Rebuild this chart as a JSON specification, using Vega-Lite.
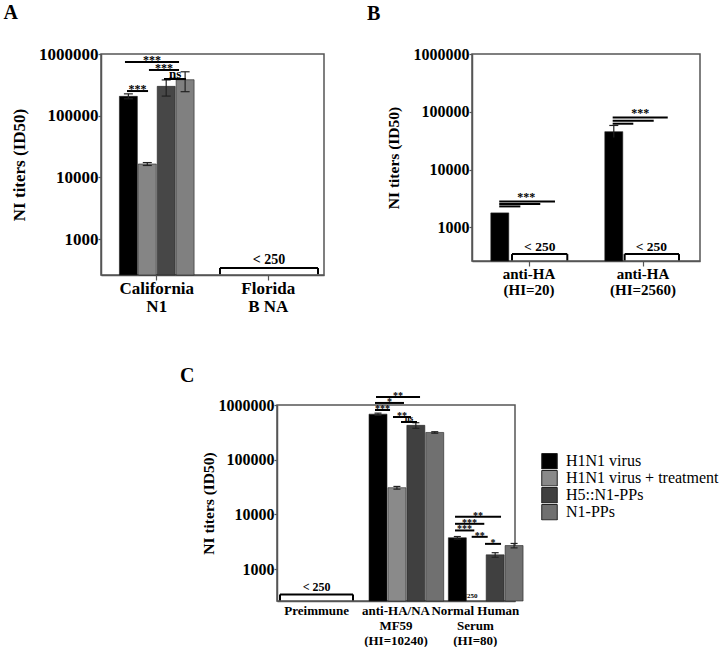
{
  "$schema": "https://vega.github.io/schema/vega-lite/v6.json",
  "background": "white",
  "padding": {"left": 2, "top": 2, "right": 2, "bottom": 2},
  "config": {
    "font": "Liberation Serif",
    "view": {"stroke": "#555", "strokeWidth": 1.5},
    "axis": {"grid": false, "domainColor": "#555", "domainWidth": 1.5, "tickColor": "#555", "tickSize": 5, "tickWidth": 1.2, "labelColor": "#000", "labelFont": "Liberation Serif", "labelFontWeight": "bold", "titleFont": "Liberation Serif", "titleFontWeight": "bold", "titleColor": "#000", "labelOverlap": false},
    "title": {"font": "Liberation Serif", "fontWeight": "bold", "color": "#000", "anchor": "start"}
  },
  "datasets": {
    "barsA": [
      {"group": "California|N1", "series": "H1N1 virus", "value": 206000, "lo": 188000, "hi": 226000},
      {"group": "California|N1", "series": "H1N1 virus + treatment", "value": 16500, "lo": 15600, "hi": 17400},
      {"group": "California|N1", "series": "H5::N1-PPs", "value": 299000, "lo": 208000, "hi": 380000},
      {"group": "California|N1", "series": "N1-PPs", "value": 383000, "lo": 245000, "hi": 515000}
    ],
    "sigA": [
      {"from": 0.233, "to": 0.422, "mid": 0.328, "y": 251000, "label": "***"},
      {"from": 0.215, "to": 0.700, "mid": 0.457, "y": 741000, "label": "***"},
      {"from": 0.430, "to": 0.700, "mid": 0.565, "y": 551000, "label": "***"},
      {"from": 0.565, "to": 0.762, "mid": 0.664, "y": 393000, "label": "ns"}
    ],
    "lowA": [
      {"from": 1.067, "to": 1.946, "mid": 1.507, "label": "< 250"}
    ],
    "barsB": [
      {"group": "anti-HA|(HI=20)", "series": "H1N1 virus", "value": 1780},
      {"group": "anti-HA|(HI=2560)", "series": "H1N1 virus", "value": 45300, "lo": 36000, "hi": 58000}
    ],
    "sigB": [
      {"from": 0.239, "to": 0.728, "mid": 0.475, "y": 2818, "label": "***"},
      {"from": 0.239, "to": 0.599, "mid": 0.42, "y": 2541, "label": ""},
      {"from": 0.239, "to": 0.424, "mid": 0.33, "y": 2307, "label": ""},
      {"from": 1.234, "to": 1.717, "mid": 1.475, "y": 80000, "label": "***"},
      {"from": 1.234, "to": 1.594, "mid": 1.41, "y": 70200, "label": ""},
      {"from": 1.234, "to": 1.415, "mid": 1.32, "y": 62200, "label": ""}
    ],
    "lowB": [
      {"from": 0.351, "to": 0.836, "mid": 0.594, "label": "< 250"},
      {"from": 1.339, "to": 1.816, "mid": 1.573, "label": "< 250"}
    ],
    "barsC": [
      {"group": "anti-HA/NA|MF59|(HI=10240)", "series": "H1N1 virus", "value": 680000, "lo": 650000, "hi": 710000},
      {"group": "anti-HA/NA|MF59|(HI=10240)", "series": "H1N1 virus + treatment", "value": 30800, "lo": 29000, "hi": 32500},
      {"group": "anti-HA/NA|MF59|(HI=10240)", "series": "H5::N1-PPs", "value": 425000, "lo": 375000, "hi": 475000},
      {"group": "anti-HA/NA|MF59|(HI=10240)", "series": "N1-PPs", "value": 315000, "lo": 305000, "hi": 325000},
      {"group": "Normal Human|Serum|(HI=80)", "series": "H1N1 virus", "value": 3750, "lo": 3550, "hi": 3950},
      {"group": "Normal Human|Serum|(HI=80)", "series": "H5::N1-PPs", "value": 1830, "lo": 1650, "hi": 2000},
      {"group": "Normal Human|Serum|(HI=80)", "series": "N1-PPs", "value": 2700, "lo": 2450, "hi": 2950}
    ],
    "sigC": [
      {"from": 1.235, "to": 1.425, "mid": 1.33, "y": 811000, "label": "***"},
      {"from": 1.235, "to": 1.601, "mid": 1.418, "y": 1090000, "label": "*"},
      {"from": 1.248, "to": 1.803, "mid": 1.525, "y": 1400000, "label": "**"},
      {"from": 1.462, "to": 1.689, "mid": 1.575, "y": 603000, "label": "**"},
      {"from": 1.563, "to": 1.765, "mid": 1.664, "y": 489000, "label": "ns"},
      {"from": 2.244, "to": 2.824, "mid": 2.534, "y": 9060, "label": "**"},
      {"from": 2.244, "to": 2.613, "mid": 2.428, "y": 6740, "label": "***"},
      {"from": 2.244, "to": 2.487, "mid": 2.365, "y": 5100, "label": "***"},
      {"from": 2.454, "to": 2.656, "mid": 2.555, "y": 3900, "label": "**"},
      {"from": 2.622, "to": 2.824, "mid": 2.723, "y": 2900, "label": "*"}
    ],
    "lowC": [
      {"from": 0.038, "to": 0.958, "mid": 0.5, "label": "< 250"}
    ],
    "noteC": [
      {"mid": 2.437, "label": "<250"}
    ]
  },
  "bounds": "flush",
  "spacing": 351,
  "resolve": {"scale": {"fill": "independent"}, "legend": {"fill": "independent"}},
  "vconcat": [
    {
      "bounds": "flush",
      "spacing": 148,
      "resolve": {"scale": {"fill": "independent"}, "legend": {"fill": "independent"}},
      "hconcat": [
        {
          "width": 223,
          "height": 221,
          "title": {"text": "A", "fontSize": 20, "dx": -7, "offset": 22},
          "resolve": {"scale": {"x": "independent"}},
          "layer": [
            {
              "data": {"name": "barsA"},
              "layer": [
                {
                  "mark": {"type": "bar", "stroke": "#222", "strokeWidth": 0.6},
                  "encoding": {
                    "x": {"field": "group", "type": "nominal", "scale": {"domain": ["California|N1", "Florida|B NA"], "paddingInner": 0.33, "paddingOuter": 0.165}, "axis": {"title": null, "labelAngle": 0, "labelExpr": "split(datum.value, '|')", "labelFontSize": 17, "labelLineHeight": 18, "labelPadding": 0}},
                    "xOffset": {"field": "series", "scale": {"domain": ["H1N1 virus", "H1N1 virus + treatment", "H5::N1-PPs", "N1-PPs"], "paddingInner": 0.05}},
                    "y": {"field": "value", "type": "quantitative", "scale": {"type": "log", "domain": [262, 1000000], "nice": false}, "axis": {"title": "NI titers (ID50)", "values": [1000, 10000, 100000, 1000000], "format": "d", "labelFontSize": 17, "titleFontSize": 17, "tickSize": 3, "labelPadding": 0, "titlePadding": 10}},
                    "y2": {"datum": 262},
                    "fill": {"field": "series", "type": "nominal", "scale": {"domain": ["H1N1 virus", "H1N1 virus + treatment", "H5::N1-PPs", "N1-PPs"], "range": ["#000000", "#858585", "#474747", "#808080"]}, "legend": null}
                  }
                },
                {
                  "mark": {"type": "rule", "color": "#222", "strokeWidth": 1.2},
                  "encoding": {
                    "x": {"field": "group", "type": "nominal", "scale": {"domain": ["California|N1", "Florida|B NA"], "paddingInner": 0.33, "paddingOuter": 0.165}},
                    "xOffset": {"field": "series", "scale": {"domain": ["H1N1 virus", "H1N1 virus + treatment", "H5::N1-PPs", "N1-PPs"], "paddingInner": 0.05}},
                    "y": {"field": "lo", "type": "quantitative", "scale": {"type": "log", "domain": [262, 1000000], "nice": false}},
                    "y2": {"field": "hi"}
                  }
                },
                {
                  "mark": {"type": "point", "shape": "M-1,0H1", "size": 81, "filled": false, "opacity": 1, "color": "#222", "strokeWidth": 1.2},
                  "encoding": {
                    "x": {"field": "group", "type": "nominal", "scale": {"domain": ["California|N1", "Florida|B NA"], "paddingInner": 0.33, "paddingOuter": 0.165}},
                    "xOffset": {"field": "series", "scale": {"domain": ["H1N1 virus", "H1N1 virus + treatment", "H5::N1-PPs", "N1-PPs"], "paddingInner": 0.05}},
                    "y": {"field": "hi", "type": "quantitative", "scale": {"type": "log", "domain": [262, 1000000], "nice": false}}
                  }
                },
                {
                  "mark": {"type": "point", "shape": "M-1,0H1", "size": 81, "filled": false, "opacity": 1, "color": "#222", "strokeWidth": 1.2},
                  "encoding": {
                    "x": {"field": "group", "type": "nominal", "scale": {"domain": ["California|N1", "Florida|B NA"], "paddingInner": 0.33, "paddingOuter": 0.165}},
                    "xOffset": {"field": "series", "scale": {"domain": ["H1N1 virus", "H1N1 virus + treatment", "H5::N1-PPs", "N1-PPs"], "paddingInner": 0.05}},
                    "y": {"field": "lo", "type": "quantitative", "scale": {"type": "log", "domain": [262, 1000000], "nice": false}}
                  }
                }
              ]
            },
            {
              "layer": [
                {
                  "data": {"name": "sigA"},
                  "mark": {"type": "rule", "color": "#000", "strokeWidth": 2},
                  "encoding": {
                    "x": {"field": "from", "type": "quantitative", "scale": {"domain": [0, 2], "nice": false, "zero": false}, "axis": null},
                    "x2": {"field": "to"},
                    "y": {"field": "y", "type": "quantitative", "scale": {"type": "log", "domain": [262, 1000000], "nice": false}}
                  }
                },
                {
                  "data": {"name": "sigA"},
                  "transform": [{"filter": "datum.label != 'ns' && datum.label != ''"}],
                  "mark": {"type": "text", "fontSize": 12, "fontWeight": "bold", "dy": 2, "baseline": "alphabetic", "align": "center", "color": "#000"},
                  "encoding": {
                    "x": {"field": "mid", "type": "quantitative", "scale": {"domain": [0, 2], "nice": false, "zero": false}, "axis": null},
                    "y": {"field": "y", "type": "quantitative", "scale": {"type": "log", "domain": [262, 1000000], "nice": false}},
                    "text": {"field": "label"}
                  }
                },
                {
                  "data": {"name": "sigA"},
                  "transform": [{"filter": "datum.label == 'ns'"}],
                  "mark": {"type": "text", "fontSize": 13, "fontWeight": "bold", "dy": -1.5, "baseline": "alphabetic", "align": "center", "color": "#000"},
                  "encoding": {
                    "x": {"field": "mid", "type": "quantitative", "scale": {"domain": [0, 2], "nice": false, "zero": false}, "axis": null},
                    "y": {"field": "y", "type": "quantitative", "scale": {"type": "log", "domain": [262, 1000000], "nice": false}},
                    "text": {"field": "label"}
                  }
                },
                {
                  "data": {"name": "lowA"},
                  "mark": {"type": "rule", "color": "#000", "strokeWidth": 2},
                  "encoding": {
                    "x": {"field": "from", "type": "quantitative", "scale": {"domain": [0, 2], "nice": false, "zero": false}, "axis": null},
                    "x2": {"field": "to"},
                    "y": {"datum": 340, "type": "quantitative", "scale": {"type": "log", "domain": [262, 1000000], "nice": false}}
                  }
                },
                {
                  "data": {"name": "lowA"},
                  "mark": {"type": "rule", "color": "#000", "strokeWidth": 2},
                  "encoding": {
                    "x": {"field": "from", "type": "quantitative", "scale": {"domain": [0, 2], "nice": false, "zero": false}, "axis": null},
                    "y": {"datum": 340, "type": "quantitative", "scale": {"type": "log", "domain": [262, 1000000], "nice": false}},
                    "y2": {"datum": 270}
                  }
                },
                {
                  "data": {"name": "lowA"},
                  "mark": {"type": "rule", "color": "#000", "strokeWidth": 2},
                  "encoding": {
                    "x": {"field": "to", "type": "quantitative", "scale": {"domain": [0, 2], "nice": false, "zero": false}, "axis": null},
                    "y": {"datum": 340, "type": "quantitative", "scale": {"type": "log", "domain": [262, 1000000], "nice": false}},
                    "y2": {"datum": 270}
                  }
                },
                {
                  "data": {"name": "lowA"},
                  "mark": {"type": "text", "fontSize": 14, "fontWeight": "bold", "dy": -4, "baseline": "alphabetic", "align": "center", "color": "#000"},
                  "encoding": {
                    "x": {"field": "mid", "type": "quantitative", "scale": {"domain": [0, 2], "nice": false, "zero": false}, "axis": null},
                    "y": {"datum": 340, "type": "quantitative", "scale": {"type": "log", "domain": [262, 1000000], "nice": false}},
                    "text": {"field": "label"}
                  }
                }
              ]
            }
          ]
        },
        {
          "width": 228,
          "height": 207,
          "title": {"text": "B", "fontSize": 20, "dx": -19, "offset": 22},
          "resolve": {"scale": {"x": "independent"}},
          "layer": [
            {
              "data": {"name": "barsB"},
              "layer": [
                {
                  "mark": {"type": "bar", "stroke": "#222", "strokeWidth": 0.6},
                  "encoding": {
                    "x": {"field": "group", "type": "nominal", "scale": {"domain": ["anti-HA|(HI=20)", "anti-HA|(HI=2560)"], "paddingInner": 0.33, "paddingOuter": 0.165}, "axis": {"title": null, "labelAngle": 0, "labelExpr": "split(datum.value, '|')", "labelFontSize": 15, "labelLineHeight": 16, "labelPadding": 0}},
                    "xOffset": {"field": "series", "scale": {"domain": ["H1N1 virus", "H1N1 virus + treatment", "H5::N1-PPs", "N1-PPs"], "paddingInner": 0.05}},
                    "y": {"field": "value", "type": "quantitative", "scale": {"type": "log", "domain": [262, 1000000], "nice": false}, "axis": {"title": "NI titers (ID50)", "values": [1000, 10000, 100000, 1000000], "format": "d", "labelFontSize": 16, "titleFontSize": 15.5, "tickSize": 3, "labelPadding": 0, "titlePadding": 12}},
                    "y2": {"datum": 262},
                    "fill": {"field": "series", "type": "nominal", "scale": {"domain": ["H1N1 virus", "H1N1 virus + treatment", "H5::N1-PPs", "N1-PPs"], "range": ["#000000", "#858585", "#474747", "#808080"]}, "legend": null}
                  }
                },
                {
                  "mark": {"type": "rule", "color": "#222", "strokeWidth": 1.2},
                  "encoding": {
                    "x": {"field": "group", "type": "nominal", "scale": {"domain": ["anti-HA|(HI=20)", "anti-HA|(HI=2560)"], "paddingInner": 0.33, "paddingOuter": 0.165}},
                    "xOffset": {"field": "series", "scale": {"domain": ["H1N1 virus", "H1N1 virus + treatment", "H5::N1-PPs", "N1-PPs"], "paddingInner": 0.05}},
                    "y": {"field": "lo", "type": "quantitative", "scale": {"type": "log", "domain": [262, 1000000], "nice": false}},
                    "y2": {"field": "hi"}
                  }
                },
                {
                  "mark": {"type": "point", "shape": "M-1,0H1", "size": 81, "filled": false, "opacity": 1, "color": "#222", "strokeWidth": 1.2},
                  "encoding": {
                    "x": {"field": "group", "type": "nominal", "scale": {"domain": ["anti-HA|(HI=20)", "anti-HA|(HI=2560)"], "paddingInner": 0.33, "paddingOuter": 0.165}},
                    "xOffset": {"field": "series", "scale": {"domain": ["H1N1 virus", "H1N1 virus + treatment", "H5::N1-PPs", "N1-PPs"], "paddingInner": 0.05}},
                    "y": {"field": "hi", "type": "quantitative", "scale": {"type": "log", "domain": [262, 1000000], "nice": false}}
                  }
                }
              ]
            },
            {
              "layer": [
                {
                  "data": {"name": "sigB"},
                  "mark": {"type": "rule", "color": "#000", "strokeWidth": 2},
                  "encoding": {
                    "x": {"field": "from", "type": "quantitative", "scale": {"domain": [0, 2], "nice": false, "zero": false}, "axis": null},
                    "x2": {"field": "to"},
                    "y": {"field": "y", "type": "quantitative", "scale": {"type": "log", "domain": [262, 1000000], "nice": false}}
                  }
                },
                {
                  "data": {"name": "sigB"},
                  "transform": [{"filter": "datum.label != ''"}],
                  "mark": {"type": "text", "fontSize": 12, "fontWeight": "bold", "dy": 0, "baseline": "alphabetic", "align": "center", "color": "#000"},
                  "encoding": {
                    "x": {"field": "mid", "type": "quantitative", "scale": {"domain": [0, 2], "nice": false, "zero": false}, "axis": null},
                    "y": {"field": "y", "type": "quantitative", "scale": {"type": "log", "domain": [262, 1000000], "nice": false}},
                    "text": {"field": "label"}
                  }
                },
                {
                  "data": {"name": "lowB"},
                  "mark": {"type": "rule", "color": "#000", "strokeWidth": 2},
                  "encoding": {
                    "x": {"field": "from", "type": "quantitative", "scale": {"domain": [0, 2], "nice": false, "zero": false}, "axis": null},
                    "x2": {"field": "to"},
                    "y": {"datum": 345, "type": "quantitative", "scale": {"type": "log", "domain": [262, 1000000], "nice": false}}
                  }
                },
                {
                  "data": {"name": "lowB"},
                  "mark": {"type": "rule", "color": "#000", "strokeWidth": 2},
                  "encoding": {
                    "x": {"field": "from", "type": "quantitative", "scale": {"domain": [0, 2], "nice": false, "zero": false}, "axis": null},
                    "y": {"datum": 345, "type": "quantitative", "scale": {"type": "log", "domain": [262, 1000000], "nice": false}},
                    "y2": {"datum": 268}
                  }
                },
                {
                  "data": {"name": "lowB"},
                  "mark": {"type": "rule", "color": "#000", "strokeWidth": 2},
                  "encoding": {
                    "x": {"field": "to", "type": "quantitative", "scale": {"domain": [0, 2], "nice": false, "zero": false}, "axis": null},
                    "y": {"datum": 345, "type": "quantitative", "scale": {"type": "log", "domain": [262, 1000000], "nice": false}},
                    "y2": {"datum": 268}
                  }
                },
                {
                  "data": {"name": "lowB"},
                  "mark": {"type": "text", "fontSize": 13.5, "fontWeight": "bold", "dy": -3.5, "baseline": "alphabetic", "align": "center", "color": "#000"},
                  "encoding": {
                    "x": {"field": "mid", "type": "quantitative", "scale": {"domain": [0, 2], "nice": false, "zero": false}, "axis": null},
                    "y": {"datum": 345, "type": "quantitative", "scale": {"type": "log", "domain": [262, 1000000], "nice": false}},
                    "text": {"field": "label"}
                  }
                }
              ]
            }
          ]
        }
      ]
    },
    {
      "bounds": "flush",
      "spacing": 0,
      "resolve": {"scale": {"fill": "independent"}, "legend": {"fill": "independent"}},
      "hconcat": [
        {
          "width": 176,
          "height": 10,
          "view": {"stroke": null},
          "data": {"values": []},
          "mark": "point",
          "encoding": {}
        },
        {
          "width": 238,
          "height": 196,
          "title": {"text": "C", "fontSize": 20, "dx": -21, "offset": 5},
          "resolve": {"scale": {"x": "independent"}},
          "layer": [
            {
              "data": {"name": "barsC"},
              "layer": [
                {
                  "mark": {"type": "bar", "stroke": "#222", "strokeWidth": 0.6},
                  "encoding": {
                    "x": {"field": "group", "type": "nominal", "scale": {"domain": ["Preimmune", "anti-HA/NA|MF59|(HI=10240)", "Normal Human|Serum|(HI=80)"], "paddingInner": 0.32, "paddingOuter": 0.16}, "axis": {"title": null, "labelAngle": 0, "labelExpr": "split(datum.value, '|')", "labelFontSize": 13, "labelLineHeight": 15, "labelPadding": 3, "ticks": false}},
                    "xOffset": {"field": "series", "scale": {"domain": ["H1N1 virus", "H1N1 virus + treatment", "H5::N1-PPs", "N1-PPs"], "paddingInner": 0.04}},
                    "y": {"field": "value", "type": "quantitative", "scale": {"type": "log", "domain": [262, 1000000], "nice": false}, "axis": {"title": "NI titers (ID50)", "values": [1000, 10000, 100000, 1000000], "format": "d", "labelFontSize": 16, "titleFontSize": 15.5, "tickSize": 3, "labelPadding": 0, "titlePadding": 2}},
                    "y2": {"datum": 262},
                    "fill": {"field": "series", "type": "nominal", "scale": {"domain": ["H1N1 virus", "H1N1 virus + treatment", "H5::N1-PPs", "N1-PPs"], "range": ["#000000", "#8a8a8a", "#404040", "#707070"]}, "legend": {"orient": "none", "legendX": 264, "legendY": 48, "title": null, "padding": 0, "symbolType": "square", "symbolSize": 240, "symbolStrokeColor": "#222", "symbolStrokeWidth": 1, "labelFont": "Liberation Serif", "labelFontSize": 16, "labelFontWeight": "normal", "labelColor": "#000", "labelOffset": 8, "rowPadding": 0, "clipHeight": 16.5, "labelLimit": 300}}
                  }
                },
                {
                  "mark": {"type": "rule", "color": "#222", "strokeWidth": 1.2},
                  "encoding": {
                    "x": {"field": "group", "type": "nominal", "scale": {"domain": ["Preimmune", "anti-HA/NA|MF59|(HI=10240)", "Normal Human|Serum|(HI=80)"], "paddingInner": 0.32, "paddingOuter": 0.16}},
                    "xOffset": {"field": "series", "scale": {"domain": ["H1N1 virus", "H1N1 virus + treatment", "H5::N1-PPs", "N1-PPs"], "paddingInner": 0.04}},
                    "y": {"field": "lo", "type": "quantitative", "scale": {"type": "log", "domain": [262, 1000000], "nice": false}},
                    "y2": {"field": "hi"}
                  }
                },
                {
                  "mark": {"type": "point", "shape": "M-1,0H1", "size": 49, "filled": false, "opacity": 1, "color": "#222", "strokeWidth": 1.2},
                  "encoding": {
                    "x": {"field": "group", "type": "nominal", "scale": {"domain": ["Preimmune", "anti-HA/NA|MF59|(HI=10240)", "Normal Human|Serum|(HI=80)"], "paddingInner": 0.32, "paddingOuter": 0.16}},
                    "xOffset": {"field": "series", "scale": {"domain": ["H1N1 virus", "H1N1 virus + treatment", "H5::N1-PPs", "N1-PPs"], "paddingInner": 0.04}},
                    "y": {"field": "hi", "type": "quantitative", "scale": {"type": "log", "domain": [262, 1000000], "nice": false}}
                  }
                },
                {
                  "mark": {"type": "point", "shape": "M-1,0H1", "size": 49, "filled": false, "opacity": 1, "color": "#222", "strokeWidth": 1.2},
                  "encoding": {
                    "x": {"field": "group", "type": "nominal", "scale": {"domain": ["Preimmune", "anti-HA/NA|MF59|(HI=10240)", "Normal Human|Serum|(HI=80)"], "paddingInner": 0.32, "paddingOuter": 0.16}},
                    "xOffset": {"field": "series", "scale": {"domain": ["H1N1 virus", "H1N1 virus + treatment", "H5::N1-PPs", "N1-PPs"], "paddingInner": 0.04}},
                    "y": {"field": "lo", "type": "quantitative", "scale": {"type": "log", "domain": [262, 1000000], "nice": false}}
                  }
                }
              ]
            },
            {
              "layer": [
                {
                  "data": {"name": "sigC"},
                  "mark": {"type": "rule", "color": "#000", "strokeWidth": 2},
                  "encoding": {
                    "x": {"field": "from", "type": "quantitative", "scale": {"domain": [0, 3], "nice": false, "zero": false}, "axis": null},
                    "x2": {"field": "to"},
                    "y": {"field": "y", "type": "quantitative", "scale": {"type": "log", "domain": [262, 1000000], "nice": false}}
                  }
                },
                {
                  "data": {"name": "sigC"},
                  "transform": [{"filter": "datum.label != 'ns'"}],
                  "mark": {"type": "text", "fontSize": 10, "fontWeight": "bold", "dy": 2, "baseline": "alphabetic", "align": "center", "color": "#000"},
                  "encoding": {
                    "x": {"field": "mid", "type": "quantitative", "scale": {"domain": [0, 3], "nice": false, "zero": false}, "axis": null},
                    "y": {"field": "y", "type": "quantitative", "scale": {"type": "log", "domain": [262, 1000000], "nice": false}},
                    "text": {"field": "label"}
                  }
                },
                {
                  "data": {"name": "sigC"},
                  "transform": [{"filter": "datum.label == 'ns'"}],
                  "mark": {"type": "text", "fontSize": 9, "fontWeight": "bold", "dy": -1.5, "baseline": "alphabetic", "align": "center", "color": "#000"},
                  "encoding": {
                    "x": {"field": "mid", "type": "quantitative", "scale": {"domain": [0, 3], "nice": false, "zero": false}, "axis": null},
                    "y": {"field": "y", "type": "quantitative", "scale": {"type": "log", "domain": [262, 1000000], "nice": false}},
                    "text": {"field": "label"}
                  }
                },
                {
                  "data": {"name": "lowC"},
                  "mark": {"type": "rule", "color": "#000", "strokeWidth": 2},
                  "encoding": {
                    "x": {"field": "from", "type": "quantitative", "scale": {"domain": [0, 3], "nice": false, "zero": false}, "axis": null},
                    "x2": {"field": "to"},
                    "y": {"datum": 345, "type": "quantitative", "scale": {"type": "log", "domain": [262, 1000000], "nice": false}}
                  }
                },
                {
                  "data": {"name": "lowC"},
                  "mark": {"type": "rule", "color": "#000", "strokeWidth": 2},
                  "encoding": {
                    "x": {"field": "from", "type": "quantitative", "scale": {"domain": [0, 3], "nice": false, "zero": false}, "axis": null},
                    "y": {"datum": 345, "type": "quantitative", "scale": {"type": "log", "domain": [262, 1000000], "nice": false}},
                    "y2": {"datum": 268}
                  }
                },
                {
                  "data": {"name": "lowC"},
                  "mark": {"type": "rule", "color": "#000", "strokeWidth": 2},
                  "encoding": {
                    "x": {"field": "to", "type": "quantitative", "scale": {"domain": [0, 3], "nice": false, "zero": false}, "axis": null},
                    "y": {"datum": 345, "type": "quantitative", "scale": {"type": "log", "domain": [262, 1000000], "nice": false}},
                    "y2": {"datum": 268}
                  }
                },
                {
                  "data": {"name": "lowC"},
                  "mark": {"type": "text", "fontSize": 12, "fontWeight": "bold", "dy": -3, "baseline": "alphabetic", "align": "center", "color": "#000"},
                  "encoding": {
                    "x": {"field": "mid", "type": "quantitative", "scale": {"domain": [0, 3], "nice": false, "zero": false}, "axis": null},
                    "y": {"datum": 345, "type": "quantitative", "scale": {"type": "log", "domain": [262, 1000000], "nice": false}},
                    "text": {"field": "label"}
                  }
                },
                {
                  "data": {"name": "noteC"},
                  "mark": {"type": "text", "fontSize": 7, "fontWeight": "bold", "baseline": "middle", "align": "center", "color": "#000"},
                  "encoding": {
                    "x": {"field": "mid", "type": "quantitative", "scale": {"domain": [0, 3], "nice": false, "zero": false}, "axis": null},
                    "y": {"datum": 320, "type": "quantitative", "scale": {"type": "log", "domain": [262, 1000000], "nice": false}},
                    "text": {"field": "label"}
                  }
                }
              ]
            }
          ]
        }
      ]
    }
  ]
}
